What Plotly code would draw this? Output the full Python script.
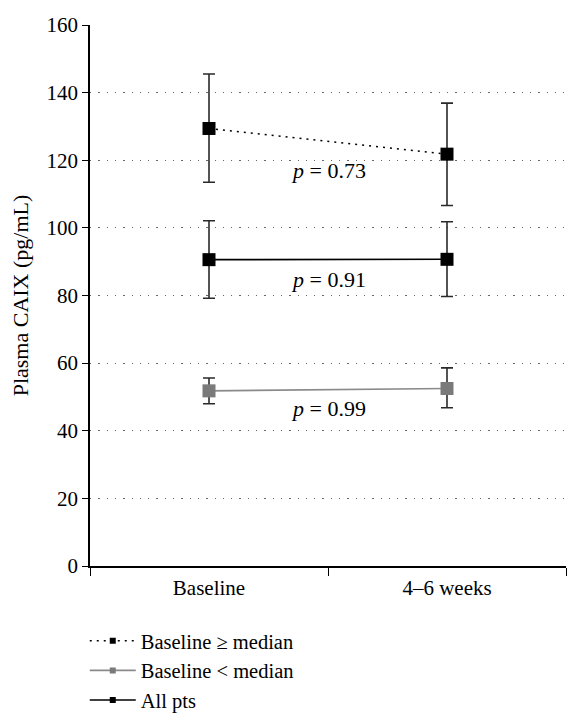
import plotly.graph_objects as go

categories = ["Baseline", "4\u20136 weeks"]

high_mean = [129.4, 121.8]
high_upper = [145.5, 136.9]
high_lower = [113.5, 106.6]

low_mean = [51.8, 52.5]
low_upper = [55.6, 58.6]
low_lower = [48.0, 46.8]

all_mean = [90.6, 90.7]
all_upper = [102.1, 101.8]
all_lower = [79.2, 79.7]

series_names = ["Baseline \u2265 median", "Baseline < median", "All pts"]
p_labels = ["<i>p</i> = 0.73", "<i>p</i> = 0.99", "<i>p</i> = 0.91"]
p_label_y = [116.9, 46.5, 84.6]

FONT = "Liberation Serif"
FS = 22
TFS = 21

def err(mean, up, lo):
    return dict(type="data", symmetric=False,
                array=[u - m for u, m in zip(up, mean)],
                arrayminus=[m - l for m, l in zip(mean, lo)],
                color="#2a2a2a", thickness=1.6, width=6)

styles = [
    dict(line=dict(color="black", width=1.6, dash="2px,5px"), mcolor="black"),
    dict(line=dict(color="#8a8a8a", width=1.6), mcolor="#7a7a7a"),
    dict(line=dict(color="black", width=1.6), mcolor="black"),
]
means = [high_mean, low_mean, all_mean]
uppers = [high_upper, low_upper, all_upper]
lowers = [high_lower, low_lower, all_lower]

fig = go.Figure()
for name, st, m, u, l in zip(series_names, styles, means, uppers, lowers):
    fig.add_trace(go.Scatter(x=categories, y=m, name=name, mode="lines+markers",
                             line=st["line"], showlegend=False,
                             marker=dict(symbol="square", size=13, color=st["mcolor"]),
                             error_y=err(m, u, l)))
# legend entries (smaller symbols, as in the reference key)
for name, st in zip(series_names, styles):
    fig.add_trace(go.Scatter(x=[None], y=[None], name=name, mode="lines+markers",
                             line=st["line"],
                             marker=dict(symbol="square", size=6, color=st["mcolor"])))

for txt, yv in zip(p_labels, p_label_y):
    fig.add_annotation(x=0.5, y=yv, text=txt, showarrow=False,
                       font=dict(family=FONT, size=FS, color="black"))

# page body has an 8px default margin on every side: size the figure so the page is 582x724
fig.update_layout(
    width=566, height=708,
    margin=dict(l=82, r=8, t=17, b=150, autoexpand=False),
    paper_bgcolor="white", plot_bgcolor="white",
    font=dict(family=FONT, size=FS, color="black"),
    showlegend=True,
    legend=dict(x=-0.011, y=-0.1015, xanchor="left", yanchor="top",
                orientation="v", traceorder="normal",
                font=dict(family=FONT, size=20.5), itemwidth=46,
                tracegroupgap=0, bgcolor="rgba(0,0,0,0)"),
    xaxis=dict(type="category", range=[-0.5, 1.5], showline=True, linecolor="black",
               linewidth=1.5, ticks="outside", tickson="boundaries", ticklen=8,
               tickcolor="black", showgrid=False, tickfont=dict(size=TFS),
               ticklabelstandoff=2, automargin=False),
    yaxis=dict(range=[0, 160], dtick=20, showline=True, linecolor="black", linewidth=1.5,
               ticks="outside", ticklen=6, tickcolor="black", showgrid=True,
               gridcolor="#666666", griddash="1.3px,7px", gridwidth=1.3, zeroline=False,
               tickfont=dict(size=TFS), automargin=False,
               title=dict(text="Plasma CAIX (pg/mL)", font=dict(size=FS), standoff=22)),
)

fig.write_html("out.html")
